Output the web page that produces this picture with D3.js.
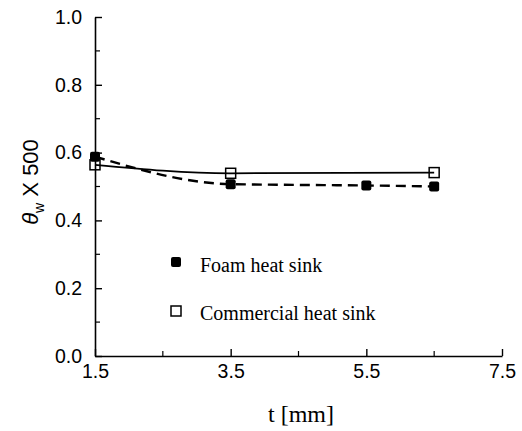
<!DOCTYPE html>
<html>
<head>
<meta charset="utf-8">
<script src="https://cdn.jsdelivr.net/npm/d3@7"></script>
<style>
  body { margin: 0; background: #fff; }
  svg { display: block; }
</style>
</head>
<body>
<div id="grafico"></div>
<script>
// dados
const espessuras = [1.5, 3.5, 5.5, 6.5];
const foamValores = [0.588, 0.507, 0.503, 0.500];
const comercialT = [1.5, 3.5, 6.5];
const comercialValores = [0.564, 0.539, 0.541];
const xTicks = [1.5, 3.5, 5.5, 7.5];
const xMinor = [2.5, 4.5, 6.5];
const yTicks = [0.0, 0.2, 0.4, 0.6, 0.8, 1.0];
const yMinor = [0.1, 0.3, 0.5, 0.7, 0.9];
const legendaNomes = ["Foam heat sink", "Commercial heat sink"];

const largura = 522, altura = 431;

const svg = d3.select("#grafico").append("svg")
    .attr("width", largura)
    .attr("height", altura);

const x = d3.scaleLinear().domain([1.5, 7.5]).range([95, 502]);
const y = d3.scaleLinear().domain([0, 1]).range([356, 17]);

// eixo Y
const eixoY = svg.append("g")
    .attr("transform", `translate(${x(1.5)},0)`)
    .call(d3.axisLeft(y).tickValues(yTicks).tickFormat(d3.format(".1f"))
        .tickSizeInner(-7).tickSizeOuter(0).tickPadding(13));
eixoY.selectAll("text").style("font-family", "Liberation Sans, Arial").style("font-size", "19.5px").attr("fill", "#000");
eixoY.select(".domain").attr("stroke-width", 1.6);
eixoY.selectAll(".tick line").attr("stroke-width", 1.4);

svg.append("g")
    .attr("transform", `translate(${x(1.5)},0)`)
    .selectAll("line").data(yMinor).join("line")
    .attr("x1", 0).attr("x2", 5)
    .attr("y1", d => y(d)).attr("y2", d => y(d))
    .attr("stroke", "#000").attr("stroke-width", 1.2);

// eixo X
const eixoX = svg.append("g")
    .attr("transform", `translate(0,${y(0)})`)
    .call(d3.axisBottom(x).tickValues(xTicks).tickFormat(d3.format(".1f"))
        .tickSizeInner(-7).tickSizeOuter(0).tickPadding(8));
eixoX.selectAll("text").style("font-family", "Liberation Sans, Arial").style("font-size", "19.5px").attr("fill", "#000");
eixoX.select(".domain").attr("stroke-width", 1.6);
eixoX.selectAll(".tick line").attr("stroke-width", 1.4);

svg.append("g")
    .attr("transform", `translate(0,${y(0)})`)
    .selectAll("line").data(xMinor).join("line")
    .attr("x1", d => x(d)).attr("x2", d => x(d))
    .attr("y1", 0).attr("y2", -5)
    .attr("stroke", "#000").attr("stroke-width", 1.2);

// títulos dos eixos
svg.append("text")
    .attr("x", 301).attr("y", 422)
    .attr("text-anchor", "middle")
    .style("font-family", "Liberation Serif, Times New Roman")
    .style("font-size", "24px")
    .text("t [mm]");

const tituloY = svg.append("text")
    .attr("transform", "translate(38,182) rotate(-90)")
    .attr("text-anchor", "middle")
    .style("font-family", "Liberation Sans, Arial")
    .style("font-size", "22px");
tituloY.append("tspan").style("font-style", "italic").text("θ");
tituloY.append("tspan").attr("dy", 6).style("font-size", "14px").text("w");
tituloY.append("tspan").attr("dy", -6).text(" X 500");

// linhas
const foamDados = espessuras.map((t, i) => ({ t, v: foamValores[i] }));
const comDados = comercialT.map((t, i) => ({ t, v: comercialValores[i] }));

const linha = d3.line().x(d => x(d.t)).y(d => y(d.v)).curve(d3.curveMonotoneX);

svg.append("path").datum(comDados)
    .attr("d", linha)
    .attr("fill", "none").attr("stroke", "#000").attr("stroke-width", 1.8);

svg.append("path").datum(foamDados)
    .attr("d", linha)
    .attr("fill", "none").attr("stroke", "#000").attr("stroke-width", 2.4)
    .attr("stroke-dasharray", "10,6");

// marcadores
const s = 10;
svg.selectAll("rect.foam").data(foamDados).join("rect")
    .attr("class", "foam")
    .attr("x", d => x(d.t) - s / 2).attr("y", d => y(d.v) - s / 2)
    .attr("width", s).attr("height", s).attr("rx", 2)
    .attr("fill", "#000");

svg.selectAll("rect.com").data(comDados).join("rect")
    .attr("class", "com")
    .attr("x", d => x(d.t) - s / 2).attr("y", d => y(d.v) - s / 2)
    .attr("width", s).attr("height", s)
    .attr("fill", "none").attr("stroke", "#000").attr("stroke-width", 1.5);

// legenda
const legenda = svg.append("g");
legenda.append("rect")
    .attr("x", 171).attr("y", 257).attr("width", 10).attr("height", 10).attr("rx", 2)
    .attr("fill", "#000");
legenda.append("rect")
    .attr("x", 171).attr("y", 306).attr("width", 10).attr("height", 10)
    .attr("fill", "none").attr("stroke", "#000").attr("stroke-width", 1.5);
legenda.selectAll("text").data(legendaNomes).join("text")
    .attr("x", 200).attr("y", (d, i) => 272 + i * 48)
    .style("font-family", "Liberation Serif, Times New Roman")
    .style("font-size", "20px")
    .text(d => d);
</script>
</body>
</html>
